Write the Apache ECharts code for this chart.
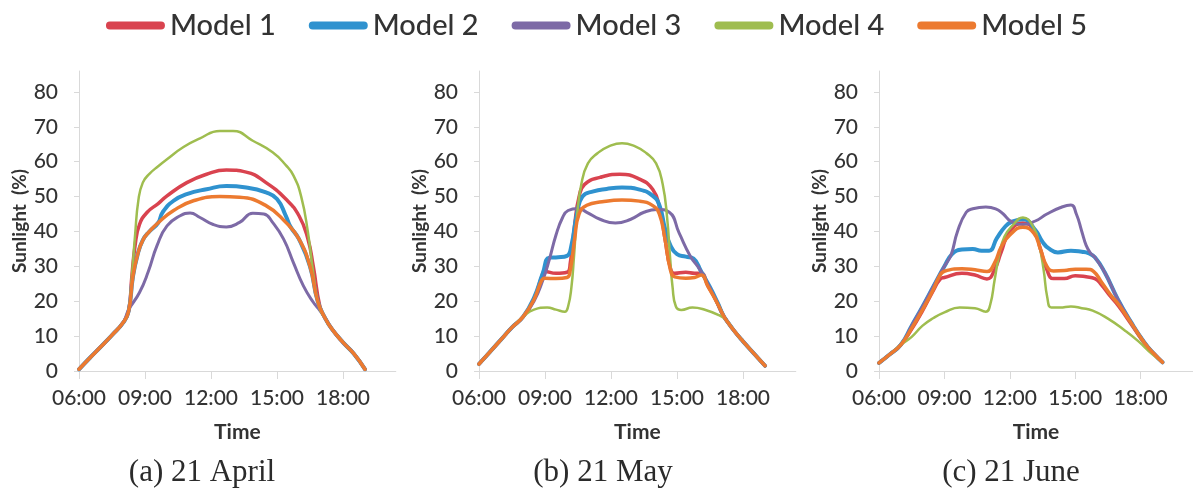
<!DOCTYPE html>
<html>
<head>
<meta charset="utf-8">
<script src="https://cdn.jsdelivr.net/npm/echarts@6/dist/echarts.min.js"></script>
<style>
  html, body { margin: 0; padding: 0; background: #ffffff; }
  #chart { width: 1193px; height: 492px; }
</style>
</head>
<body>
<div id="chart"></div>
<script>
// Hour-of-day ticks and value ticks shared by the three panels
const hourTicks = [6, 9, 12, 15, 18];
const valueTicks = [0, 10, 20, 30, 40, 50, 60, 70, 80];
const modelNames = ['Model 1', 'Model 2', 'Model 3', 'Model 4', 'Model 5'];
const modelColors = ['#d9434f', '#2f92cf', '#7d6aa6', '#9fbd4f', '#ec7a30'];
const captions = ['(a) 21 April', '(b) 21 May', '(c) 21 June'];

// ---- 21 April: [hour, sunlight %] ----
const aprM1 = [[6,0.5],[6.5,3.8],[7,7],[7.5,10.3],[8,13.8],[8.25,17],[8.4,27],[8.55,36],[8.75,42],[9.1,45.5],[9.6,48],[10,50.2],[10.9,54],[11.8,56.4],[12.7,57.6],[13.6,57],[14.5,54],[15.4,49.3],[16,44.5],[16.4,38],[16.65,30],[16.95,18.5],[17.2,15],[17.5,12],[18,8.2],[18.5,4.9],[19,0.5]];
const aprM2 = [[6,0.5],[6.5,3.8],[7,7],[7.5,10.3],[8,13.8],[8.25,17],[8.45,27],[8.65,33],[8.9,37.5],[9.2,40],[9.6,42.5],[9.8,45.5],[10.3,48.8],[10.9,50.7],[11.8,52.1],[12.7,53],[13.6,52.6],[14.5,51.2],[15,49.3],[15.4,44.5],[15.6,41.5],[16,37.8],[16.5,30],[16.85,20],[17.2,15],[17.5,12],[18,8.2],[18.5,4.9],[19,0.5]];
const aprM3 = [[6,0.5],[6.5,3.8],[7,7],[7.5,10.3],[8,13.8],[8.25,17.5],[8.75,22.5],[9.15,28.5],[9.55,36],[10,41.6],[10.6,44.5],[11.05,45.3],[11.5,44],[12.1,42],[12.7,41.3],[13.3,42.6],[13.9,45.2],[14.4,45],[14.8,42.6],[15.3,37.8],[15.75,31],[16.2,24.4],[16.65,19.7],[16.95,17.3],[17.2,15],[17.5,12],[18,8.2],[18.5,4.9],[19,0.5]];
const aprM4 = [[6,0.5],[6.5,3.8],[7,7],[7.5,10.3],[8,13.8],[8.25,17],[8.4,27],[8.55,39],[8.7,49],[8.9,54],[9.2,56.5],[9.6,58.7],[10,60.7],[10.75,64.2],[11.5,66.7],[12.4,68.8],[13,68.8],[13.9,66],[14.8,62.7],[15.4,59],[15.75,56],[16.1,50],[16.4,40],[16.65,28],[16.9,18.5],[17.2,15],[17.5,12],[18,8.2],[18.5,4.9],[19,0.5]];
const aprM5 = [[6,0.5],[6.5,3.8],[7,7],[7.5,10.3],[8,13.8],[8.25,17],[8.45,27],[8.65,33],[8.9,37.5],[9.2,40],[9.6,42.5],[10.3,46],[11.2,48.8],[12.4,50],[13.3,49.8],[14.5,47.4],[15.4,42.6],[16,37.8],[16.5,30],[16.85,20],[17.2,15],[17.5,12],[18,8.2],[18.5,4.9],[19,0.5]];

// ---- 21 May ----
const mayM1 = [[6,2],[6.5,5.5],[7,9],[7.5,12.5],[8,15.5],[8.5,20.5],[8.85,27],[9,28.5],[9.5,28],[10,28.3],[10.15,31],[10.35,42],[10.55,50],[10.8,53.5],[11.5,55.5],[12.4,56.4],[13.3,55],[13.9,52],[14.2,47],[14.45,38],[14.7,29.5],[14.9,28],[15.4,28.3],[15.8,28],[16.1,28],[16.4,24.5],[16.8,20],[17.1,16],[17.25,14.5],[17.6,11.5],[18,8.5],[18.5,5],[19,1.5]];
const mayM2 = [[6,2],[6.5,5.5],[7,9],[7.5,12.5],[8,15.5],[8.5,21],[8.9,28],[9.2,32.5],[9.6,32.6],[10,33],[10.2,36],[10.45,45],[10.7,50],[11.2,51.5],[11.8,52.2],[12.5,52.6],[13.3,52],[13.9,50.2],[14.2,47.5],[14.45,41],[14.7,36],[15,33.5],[15.4,32.8],[15.75,32.2],[16.1,28.5],[16.5,24],[16.85,19.5],[17.1,16],[17.25,14.5],[17.6,11.5],[18,8.5],[18.5,5],[19,1.5]];
const mayM3 = [[6,2],[6.5,5.5],[7,9],[7.5,12.5],[8,15.5],[8.5,20],[8.9,26],[9.2,32],[9.5,39],[9.8,44],[10.05,46],[10.5,46.6],[10.9,45.5],[11.5,43.5],[12.2,42.4],[12.9,43.5],[13.5,45.5],[14.1,46.3],[14.65,45.5],[15.1,39.5],[15.6,33],[16.05,29],[16.4,25],[16.75,20.5],[17,17],[17.25,14.5],[17.6,11.5],[18,8.5],[18.5,5],[19,1.5]];
const mayM4 = [[6,2],[6.5,5.5],[7,9],[7.5,12.5],[8,15.5],[8.5,17.6],[9.1,18.2],[9.5,17.6],[9.9,17],[10.05,18.5],[10.2,24],[10.32,33],[10.45,44],[10.65,53.5],[10.95,59.5],[11.4,62.5],[11.9,64.4],[12.5,65.3],[13.1,64.4],[13.6,62.5],[14.05,59.5],[14.35,53.5],[14.55,44],[14.68,33],[14.8,24],[14.95,18.5],[15.2,17.5],[15.7,18.2],[16.3,17.5],[16.9,16],[17.25,14.5],[17.6,11.5],[18,8.5],[18.5,5],[19,1.5]];
const mayM5 = [[6,2],[6.5,5.5],[7,9],[7.5,12.5],[8,15.5],[8.5,20.5],[8.85,26],[9,26.6],[9.5,26.5],[10,26.8],[10.15,29],[10.35,38],[10.55,45],[10.9,47.5],[11.6,48.5],[12.5,49],[13.3,48.7],[13.9,47.4],[14.2,45],[14.45,38],[14.7,29],[14.9,27],[15.4,26.6],[15.8,26.8],[16.1,27.5],[16.4,24.3],[16.8,19.8],[17.1,16],[17.25,14.5],[17.6,11.5],[18,8.5],[18.5,5],[19,1.5]];

// ---- 21 June ----
const junM1 = [[6,2.3],[6.5,4.8],[7,7.5],[7.5,12],[8,17.3],[8.5,23.2],[8.8,26.3],[9,26.8],[9.8,28],[10.4,27.5],[10.95,26.4],[11.3,29],[11.6,34],[12,40],[12.6,42.4],[13.1,40.5],[13.4,35],[13.7,29],[14,26.5],[14.5,26.5],[15,27.3],[15.5,27],[15.9,26.5],[16.2,24.7],[16.6,21.5],[17,18.5],[17.56,13.5],[18.17,8],[18.6,5],[19,2.5]];
const junM2 = [[6,2.3],[6.5,4.8],[7,7.5],[7.5,13],[8,18.5],[8.5,24.3],[9,30],[9.35,33.5],[9.8,34.8],[10.3,35],[10.7,34.5],[11.05,34.5],[11.4,38],[11.8,41.5],[12.1,42.8],[12.6,43.5],[13.17,40.4],[13.5,37],[13.77,35.2],[14.2,34],[14.8,34.5],[15.3,34.2],[15.6,33.8],[15.9,32.6],[16.35,28.3],[16.95,20.6],[17.56,14],[18.17,8.2],[18.6,5],[19,2.5]];
const junM3 = [[6,2.3],[6.5,4.8],[7,7.5],[7.5,13],[8,18.5],[8.5,24.3],[9,30],[9.3,33.2],[9.6,40],[10,45.5],[10.3,46.5],[10.9,47],[11.35,46.5],[11.7,45],[12.03,43],[12.6,42],[13.17,43],[13.7,45],[14.3,46.8],[14.8,47.6],[15.05,45],[15.3,40],[15.5,36],[15.7,33.8],[15.9,32.6],[16.35,28.3],[16.95,20.6],[17.56,14],[18.17,8.2],[18.6,5],[19,2.5]];
const junM4 = [[6,2.3],[6.5,4.8],[7,7.5],[7.5,9.8],[8,13],[8.5,15.2],[9,16.8],[9.7,18.2],[10.4,18],[10.9,17],[11.1,19],[11.3,26],[11.5,33],[11.75,38.5],[12.1,41.5],[12.6,44],[13.1,41],[13.35,36],[13.55,29],[13.72,21],[13.9,18.2],[14.3,18.2],[14.8,18.5],[15.3,18],[15.8,17.3],[16.5,15],[17.3,11.5],[17.9,8.5],[18.5,5],[19,2.5]];
const junM5 = [[6,2.3],[6.5,4.8],[7,7.5],[7.5,12.3],[8,17.6],[8.5,23.5],[8.8,27.5],[9,28.6],[9.8,29.3],[10.4,29],[10.95,28.5],[11.3,31],[11.6,35.5],[12,39],[12.6,41.2],[13.1,39.5],[13.4,35],[13.7,30],[14,28.7],[14.5,28.8],[15,29.2],[15.5,29.2],[15.85,28.5],[16.2,25.5],[16.6,22],[17,19],[17.56,13.8],[18.17,8.1],[18.6,5],[19,2.5]];

const panelData = [
  [aprM1, aprM2, aprM3, aprM4, aprM5],
  [mayM1, mayM2, mayM3, mayM4, mayM5],
  [junM1, junM2, junM3, junM4, junM5]
];

// layout of the three plot areas
const gridLefts = [79, 479, 879];
const captionX = [202, 603, 1011];
const lineWidths = [3.5, 4, 3, 2.5, 3.5];

const axisGray = '#d9d9d9';
const textGray = '#333333';
const sansFont = 'Lato, "Open Sans", sans-serif';

const hourLabel = v => {
  const h = Math.round(v);
  if (Math.abs(v - h) > 1e-6 || h % 3 !== 0 || h > 18) return '';
  return (h < 10 ? '0' : '') + h + ':00';
};
const valueLabel = v => (v % 10 === 0 && v <= 80) ? String(v) : '';

const grids = [], xAxes = [], yAxes = [], series = [], graphics = [];

panelData.forEach((lines, p) => {
  grids.push({ left: gridLefts[p], top: 71, width: 316.8, height: 300 });
  xAxes.push({
    type: 'value', gridIndex: p, min: 6, max: 20.4, interval: 3,
    axisLine: { show: true, lineStyle: { color: axisGray, width: 1 } },
    axisTick: { show: true, customValues: hourTicks, length: 8, lineStyle: { color: axisGray } },
    axisLabel: { customValues: hourTicks, formatter: hourLabel, fontSize: 21, fontWeight: 500, fontFamily: sansFont, color: textGray, margin: 17 },
    splitLine: { show: false },
    name: 'Time', nameLocation: 'middle', nameGap: 51,
    nameTextStyle: { fontSize: 21, fontWeight: 'bold', fontFamily: sansFont, color: textGray }
  });
  yAxes.push({
    type: 'value', gridIndex: p, min: 0, max: 86, interval: 10,
    axisLine: { show: true, lineStyle: { color: axisGray, width: 1 } },
    axisTick: { show: true, customValues: valueTicks, length: 5, lineStyle: { color: axisGray } },
    axisLabel: { customValues: valueTicks, formatter: valueLabel, fontSize: 21, fontWeight: 500, fontFamily: sansFont, color: textGray, margin: 21 },
    splitLine: { show: false },
    name: 'Sunlight  (%)', nameLocation: 'middle', nameGap: 48,
    nameTextStyle: { fontSize: 19, fontWeight: 'bold', fontFamily: sansFont, color: textGray }
  });
  lines.forEach((data, m) => {
    series.push({
      name: modelNames[m], type: 'line', xAxisIndex: p, yAxisIndex: p,
      data: data, showSymbol: false, smooth: 0.5,
      lineStyle: { color: modelColors[m], width: lineWidths[m], cap: 'round', join: 'round' },
      itemStyle: { color: modelColors[m] },
      emphasis: { disabled: true }
    });
  });
  graphics.push({
    type: 'text', x: captionX[p], y: 473,
    style: {
      text: captions[p], fill: '#2b2b2b',
      font: '31px "Liberation Serif", "Times New Roman", serif',
      textAlign: 'center', textVerticalAlign: 'middle'
    }
  });
});

const legendIcon = 'path://M4,0 L56,0 A4,4 0 0 1 56,8 L4,8 A4,4 0 0 1 4,0 Z';

const chart = echarts.init(document.getElementById('chart'), null, { renderer: 'canvas' });
chart.setOption({
  animation: false,
  backgroundColor: '#ffffff',
  legend: {
    data: modelNames.map(n => ({ name: n, icon: legendIcon })),
    left: 'center', top: 6,
    itemWidth: 59, itemHeight: 8, itemGap: 33,
    textStyle: { fontSize: 29, fontWeight: 500, fontFamily: sansFont, color: '#333333' }
  },
  grid: grids,
  xAxis: xAxes,
  yAxis: yAxes,
  series: series,
  graphic: graphics
});
</script>
</body>
</html>
